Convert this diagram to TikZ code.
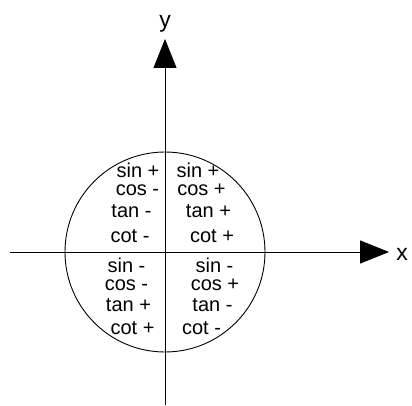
\documentclass[tikz,border=0pt]{standalone}
\usepackage{fontspec}
\setmainfont{Liberation Sans}
\usetikzlibrary{arrows.meta}

\begin{document}
\begin{tikzpicture}[x=1pt,y=1pt,line width=0.9pt,>={Triangle[length=29pt,width=23pt]},
    sign/.style={inner sep=0pt,font=\fontsize{20}{21}\selectfont}]

  \useasboundingbox (-165,-153) rectangle (247,252);

  \coordinate (O) at (0,0);
  \coordinate (xs) at (-155,0);
  \coordinate (ys) at (0,-153);
  \node[inner sep=0pt] (xt) at (225,0) {};
  \node[inner sep=0pt] (yt) at (0,214) {};
  \draw[->] (xs) -- (xt);
  \draw[->] (ys) -- (yt);
  \node[sign,font=\fontsize{23}{24}\selectfont] (xl) at (237,-2) {x};
  \node[sign,font=\fontsize{23}{24}\selectfont] (yl) at (0,228) {y};

  \draw (O) circle (100);

  % quadrant I
  \node[sign] (sinI) at (33,82) {sin +};
  \node[sign] (cosI) at (36.5,62) {cos +};
  \node[sign] (tanI) at (43.5,41) {tan +};
  \node[sign] (cotI) at (47,16) {cot +};
  % quadrant II
  \node[sign] (sinII) at (-27,82) {sin +};
  \node[sign] (cosII) at (-27.5,62) {cos -};
  \node[sign] (tanII) at (-33.5,41) {tan -};
  \node[sign] (cotII) at (-35,16) {cot -};
  % quadrant III
  \node[sign] (sinIII) at (-38.5,-13) {sin -};
  \node[sign] (cosIII) at (-38.5,-33) {cos -};
  \node[sign] (tanIII) at (-36.5,-53) {tan +};
  \node[sign] (cotIII) at (-32.5,-76) {cot +};
  % quadrant IV
  \node[sign] (sinIV) at (49.5,-13) {sin -};
  \node[sign] (cosIV) at (50,-33) {cos +};
  \node[sign] (tanIV) at (47.5,-53) {tan -};
  \node[sign] (cotIV) at (36.5,-76) {cot -};
\end{tikzpicture}
\end{document}
